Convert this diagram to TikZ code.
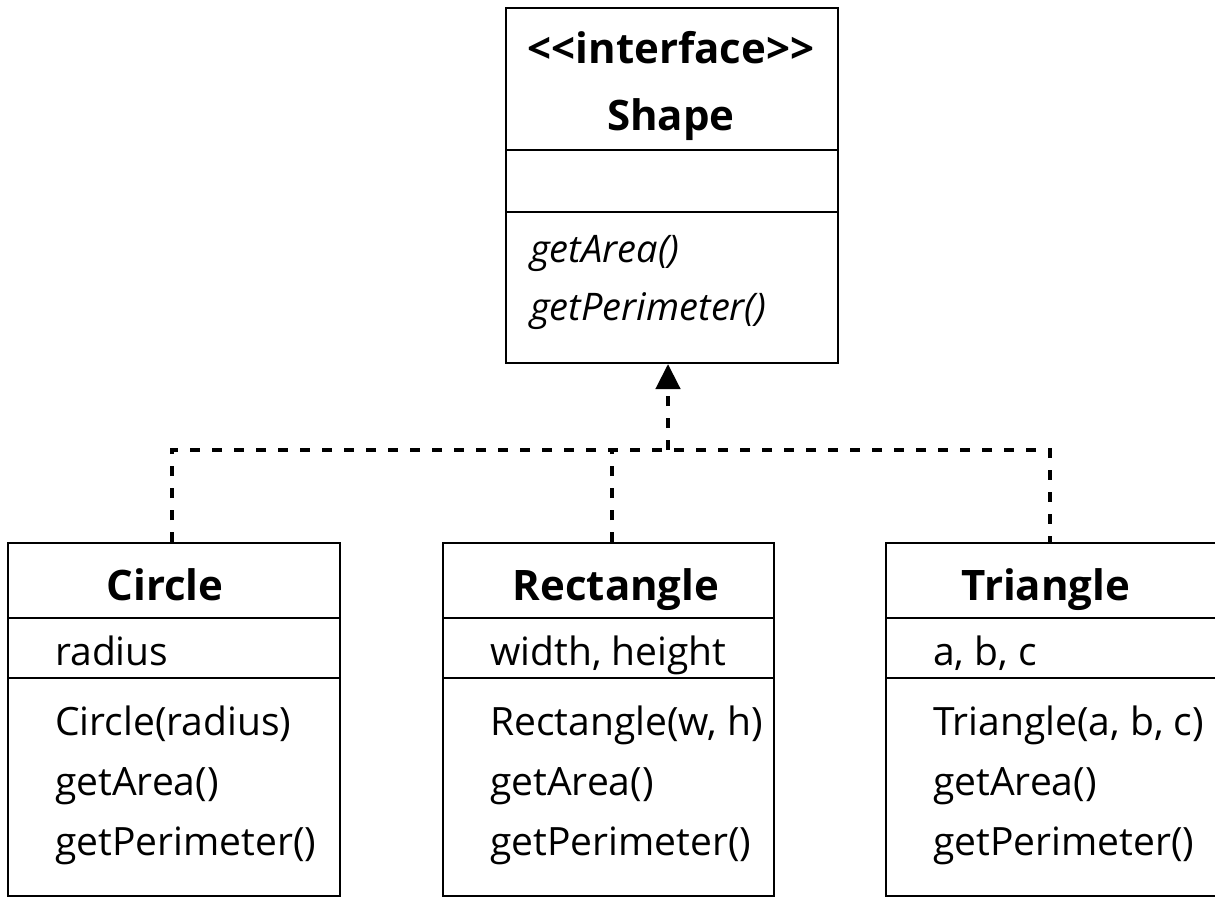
\documentclass[tikz,border=0pt]{standalone}
\usepackage{fontspec}
\setmainfont{Open Sans}
\usetikzlibrary{arrows.meta}
\begin{document}
\begin{tikzpicture}[x=1pt,y=-1pt,
  classbox/.style={draw, line width=2pt, inner sep=0pt, anchor=north west, minimum width=332pt, minimum height=353pt},
  divline/.style={line width=2pt},
  titletext/.style={anchor=base, inner sep=0pt, font=\bfseries\fontsize{42}{50}\selectfont},
  member/.style={anchor=base west, inner sep=0pt, font=\fontsize{39}{47}\selectfont},
  absmember/.style={member, font=\itshape\fontsize{38}{46}\selectfont},
  dep/.style={line width=4.5pt, dash pattern=on 10pt off 12pt},
  realize/.style={dep, -{Triangle[length=25pt,width=24pt]}, shorten >=0pt}
]
\useasboundingbox (0,0) rectangle (1215,898);

% Shape interface
\node[classbox, minimum width=332pt, minimum height=355pt] (shape) at (505,7) {};
\draw[divline] (505,150) -- (837,150);
\draw[divline] (505,212) -- (837,212);
\node[titletext] (shapest) at (671,63) {\textless{}\textless{}interface\textgreater{}\textgreater{}};
\node[titletext] (shapename) at (671,130) {Shape};
\node[absmember] (shm1) at (530,262) {getArea()};
\node[absmember] (shm2) at (530,320) {getPerimeter()};

% Circle
\node[classbox] (circle) at (7,542) {};
\draw[divline] (7,618) -- (339,618);
\draw[divline] (7,678) -- (339,678);
\node[titletext] (circlename) at (165,600) {Circle};
\node[member] (ca1) at (55,665) {radius};
\node[member] (cm1) at (55,735) {Circle(radius)};
\node[member] (cm2) at (55,795) {getArea()};
\node[member] (cm3) at (55,855) {getPerimeter()};

% Rectangle
\node[classbox, minimum width=331pt] (rect) at (442,542) {};
\draw[divline] (442,618) -- (773,618);
\draw[divline] (442,678) -- (773,678);
\node[titletext] (rectname) at (616,600) {Rectangle};
\node[member] (ra1) at (490,665) {width, height};
\node[member] (rm1) at (490,735) {Rectangle(w, h)};
\node[member] (rm2) at (490,795) {getArea()};
\node[member] (rm3) at (490,855) {getPerimeter()};

% Triangle
\node[classbox] (tri) at (885,542) {};
\draw[divline] (885,618) -- (1217,618);
\draw[divline] (885,678) -- (1217,678);
\node[titletext] (triname) at (1046,600) {Triangle};
\node[member] (ta1) at (933,665) {a, b, c};
\node[member] (tm1) at (933,735) {Triangle(a, b, c)};
\node[member] (tm2) at (933,795) {getArea()};
\node[member] (tm3) at (933,855) {getPerimeter()};

% connectors
\coordinate (bus) at (0,450);
\coordinate (cx) at (172,0);
\coordinate (rx) at (612,0);
\coordinate (tx) at (1050,0);
\coordinate (sx) at (668,0);
\draw[dep] (circle.north -| cx) -- (cx |- bus) -- (tx |- bus) -- (tri.north -| tx);
\draw[dep] (rect.north -| rx) -- (rx |- bus);
\draw[realize] (sx |- bus) -- (shape.south -| sx);
\end{tikzpicture}
\end{document}
